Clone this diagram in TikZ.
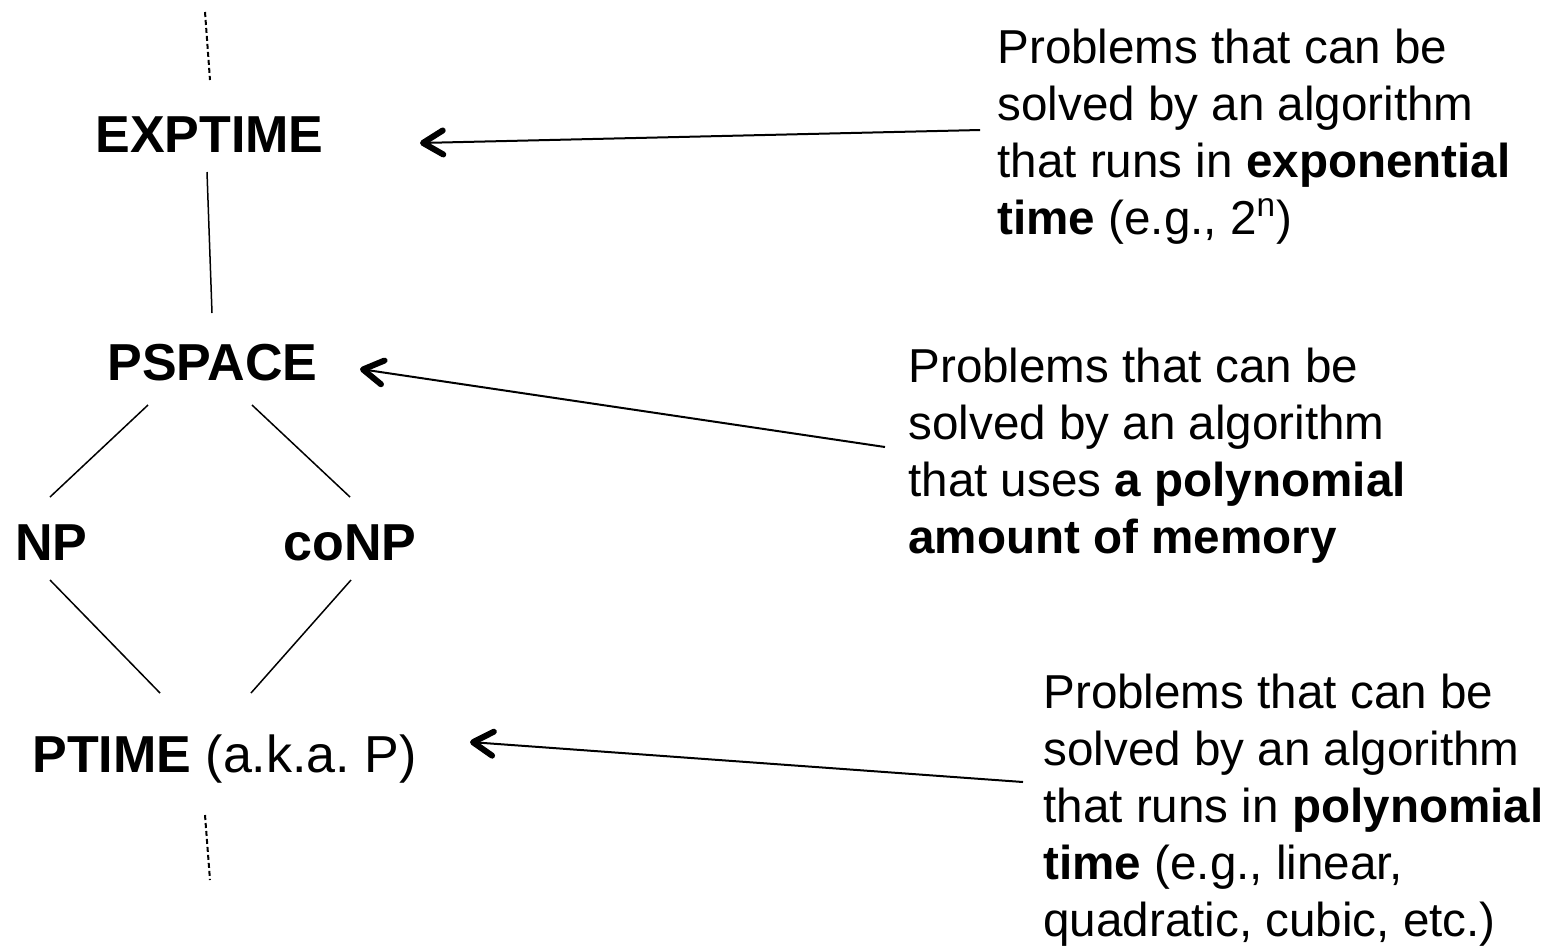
\documentclass[tikz,border=0pt]{standalone}
\usepackage{fontspec}
\setmainfont{Liberation Sans}
\usetikzlibrary{arrows.meta}
\frenchspacing
\begin{document}
\begin{tikzpicture}[x=0.5pt,y=-0.5pt,
  lbl/.style={font=\fontsize{26}{30}\selectfont\bfseries, inner sep=0pt, anchor=base west},
  desc/.style={font=\fontsize{23.8}{28.5}\selectfont, inner sep=0pt, anchor=north west, align=left},
  edgeline/.style={line width=0.75pt},
  dashedge/.style={line width=1pt, dash pattern=on 2.5pt off 1.5pt},
  pointer/.style={line width=1pt, -{Straight Barb[length=10pt,width=12pt,line width=3pt,round]}}]
\useasboundingbox (0,0) rectangle (1550,949);

% class labels
\node[lbl] (exptime) at (95,152) {EXPTIME};
\node[lbl] (pspace) at (107,380) {PSPACE};
\node[lbl] (np) at (15,560) {NP};
\node[lbl] (conp) at (283,560) {coNP};
\node[lbl] (ptime) at (32,772) {PTIME \mdseries(a.k.a.\ P)};

% descriptions
\node[desc] (d1) at (997,29) {Problems that can be\\solved by an algorithm\\that runs in \textbf{exponential}\\\textbf{time} (e.g., 2\textsuperscript{n})};
\node[desc] (d2) at (908,348) {Problems that can be\\solved by an algorithm\\that uses \textbf{a polynomial}\\\textbf{amount of memory}};
\node[desc] (d3) at (1043,674) {Problems that can be\\solved by an algorithm\\that runs in \textbf{polynomial}\\\textbf{time} (e.g., linear,\\quadratic, cubic, etc.)};

% connector end points
\coordinate (topA) at (205,12);
\coordinate (topB) at (210,80);
\coordinate (botA) at (205,815);
\coordinate (botB) at (210,880);
\coordinate (eA) at (207,172);
\coordinate (pA) at (212,313);
\coordinate (pL) at (148,405);
\coordinate (nU) at (50,497);
\coordinate (pR) at (252,405);
\coordinate (cU) at (350,497);
\coordinate (nD) at (50,580);
\coordinate (tL) at (160,693);
\coordinate (cD) at (351,580);
\coordinate (tR) at (251,693);

\coordinate (a1s) at (980,130);
\coordinate (a1e) at (420,143);
\coordinate (a2s) at (885,447);
\coordinate (a2e) at (360,369);
\coordinate (a3s) at (1023,782);
\coordinate (a3e) at (470,742);

\draw[dashedge] (topA) -- (topB);
\draw[dashedge] (botA) -- (botB);
\draw[edgeline] (eA) -- (pA);
\draw[edgeline] (pL) -- (nU);
\draw[edgeline] (pR) -- (cU);
\draw[edgeline] (nD) -- (tL);
\draw[edgeline] (cD) -- (tR);

\draw[pointer] (a1s) -- (a1e);
\draw[pointer] (a2s) -- (a2e);
\draw[pointer] (a3s) -- (a3e);
\end{tikzpicture}
\end{document}
